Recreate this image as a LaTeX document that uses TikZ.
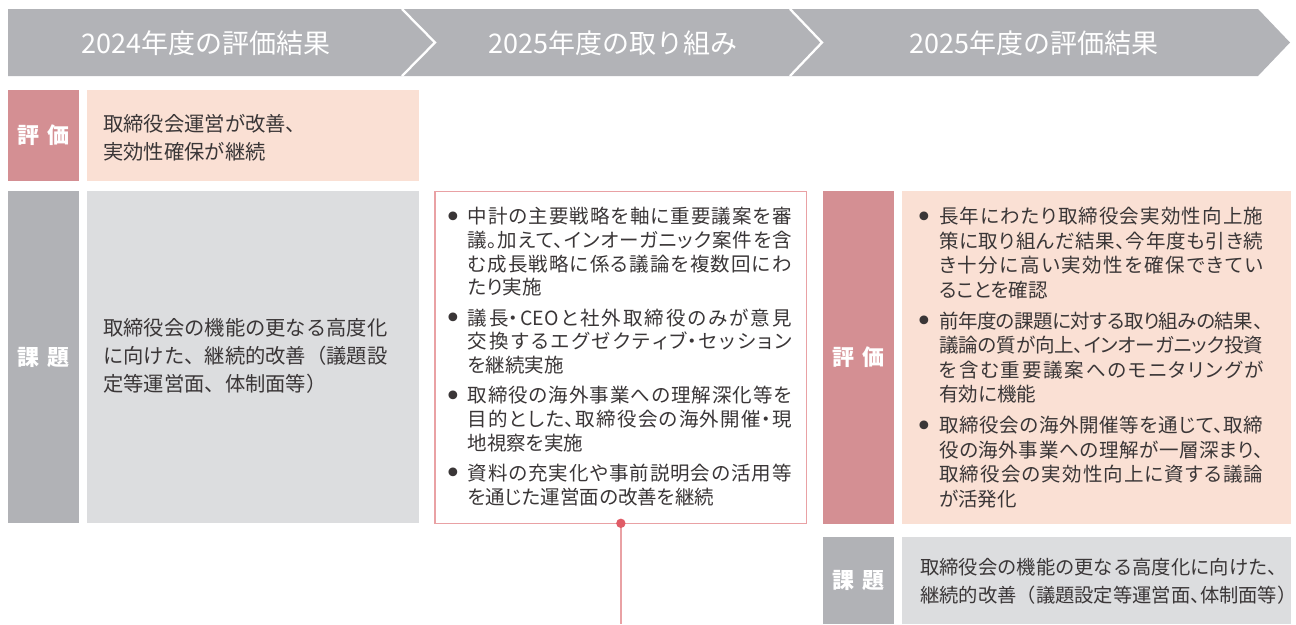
\documentclass[tikz,border=0pt]{standalone}
\usepackage{fontspec}
\setmainfont{Noto Sans CJK JP}
\newfontfamily\pfont{Noto Sans CJK JP}[RawFeature=+palt]
\newfontfamily\symfont{DejaVu Sans}
\usetikzlibrary{calc}
\XeTeXlinebreaklocale "ja"
\XeTeXlinebreakskip=0pt plus 2pt minus 1.2pt
\tolerance=10000
\hbadness=10000
\definecolor{hdgray}{HTML}{B2B3B7}
\definecolor{lblpink}{HTML}{D48F93}
\definecolor{peach}{HTML}{FAE0D4}
\definecolor{lblgray}{HTML}{B1B2B6}
\definecolor{pale}{HTML}{DCDDDF}
\definecolor{bordpink}{HTML}{E9A1A4}
\definecolor{dotred}{HTML}{E05C66}
\definecolor{ink}{HTML}{3A3637}
\newcommand{\bitem}[1]{{\hangindent=20pt\hangafter=1\noindent\makebox[20pt][l]{\makebox[10.6pt][c]{\raisebox{-3.4pt}{\symfont\fontsize{30}{30}\selectfont •}}}#1\par}}
\newcommand{\tten}{\makebox[.5em][l]{、}}
\begin{document}
\begin{tikzpicture}[x=1pt,y=-1pt,
  hd/.style={text=white, inner sep=0pt, font=\fontsize{27}{30}\selectfont},
  lab/.style={inner sep=0pt, outer sep=0pt, text=white, font=\bfseries\fontsize{22}{26}\selectfont},
  cell/.style={inner sep=0pt, outer sep=0pt},
  ptxt/.style={anchor=west, align=left, inner sep=0pt, text=ink, font=\fontsize{20.3}{28}\selectfont},
  blist/.style={anchor=west, text width=344pt, align=justify, inner sep=0pt, text=ink,
    font={\pfont\fontsize{19.5}{#1}\selectfont},
    execute at begin node={\setlength{\parskip}{6.5pt}}}]
\useasboundingbox (0,0) rectangle (1296,624);
% header band
\fill[hdgray] (8,9) -- (1258,9) -- (1290,42.5) -- (1258,76) -- (8,76) -- cycle;
\draw[white, line width=2.3pt] (402,9) -- (435,42.5) -- (402,76);
\draw[white, line width=2.3pt] (790,9) -- (822,42.5) -- (790,76);
\draw (206,43) node[hd] (hdA) {2024年度の評価結果};
\draw (613,43) node[hd] (hdB) {2025年度の取り組み};
\draw (1034,43) node[hd] (hdC) {2025年度の評価結果};
% 2024
\draw (43.5,135.5) node[lab, fill=lblpink, minimum width=71pt, minimum height=91pt] (evalA) {評\hspace{8pt}価};
\draw (252.75,135.5) node[cell, fill=peach, minimum width=331.5pt, minimum height=91pt] (evalAbox) {};
\draw (103,138) node[ptxt] (evalAtxt) {取締役会運営が改善、\\実効性確保が継続};
\draw (43.5,357.15) node[lab, fill=lblgray, minimum width=71pt, minimum height=332.3pt] (issueA) {課\hspace{8pt}題};
\draw (252.75,357.15) node[cell, fill=pale, minimum width=331.5pt, minimum height=332.3pt] (issueAbox) {};
\draw (103,356) node[ptxt] (issueAtxt) {取締役会の機能の更なる高度化\\に向けた、継続的改善（議題設\\定等運営面、体制面等）};
% 2025 actions
\draw (620.85,357.5) node[cell, draw=bordpink, line width=1.3pt, minimum width=371.7pt, minimum height=331.6pt] (act) {};
\draw (447.5,356.5) node[blist=23.7] (acttxt) {%
\bitem{中計の主要戦略を軸に重要議案を審\linebreak 議。加えて、インオーガニック案件を含\linebreak む成長戦略に係る議論を複数回にわ\linebreak たり実施}
\bitem{議長・CEOと社外取締役のみが意見\linebreak 交換するエグゼクティブ・セッション\linebreak を継続実施}
\bitem{取締役の海外事業への理解深化等を\linebreak 目的とした、取締役会の海外開催・現\linebreak 地視察を実施}
\bitem{資料の充実化や事前説明会の活用等\linebreak を通じた運営面の改善を継続}};
\coordinate (tail) at (620.85,624);
\draw[bordpink, line width=1.3pt] (act.south) -- (tail);
\fill[dotred] (act.south) circle (4.7pt);
% 2025 results
\draw (858.35,357.35) node[lab, fill=lblpink, minimum width=71.3pt, minimum height=332.7pt] (evalC) {評\hspace{8pt}価};
\draw (1096.35,357.35) node[cell, fill=peach, minimum width=388.7pt, minimum height=332.7pt] (evalCbox) {};
\draw (919,357.5) node[blist=24.5] (evalCtxt) {%
\bitem{長年にわたり取締役会実効性向上施\linebreak 策に取り組んだ結果、今年度も引き続\linebreak き十分に高い実効性を確保できてい\linebreak ることを確認}
\bitem{前年度の課題に対する取り組みの結果、\linebreak 議論の質が向上、インオーガニック投資\linebreak を含む重要議案へのモニタリングが\linebreak 有効に機能}
\bitem{取締役会の海外開催等を通じて、取締\linebreak 役の海外事業への理解が一層深まり、\linebreak 取締役会の実効性向上に資する議論\linebreak が活発化}};
\draw (858.35,580.35) node[lab, fill=lblgray, minimum width=71.3pt, minimum height=87.3pt] (issueC) {課\hspace{8pt}題};
\draw (1096.35,580.35) node[cell, fill=pale, minimum width=388.7pt, minimum height=87.3pt] (issueCbox) {};
\draw (920,581) node[ptxt, font=\fontsize{19.3}{28}\selectfont] (issueCtxt) {取締役会の機能の更なる高度化に向けた、\\継続的改善（議題設定等運営面\tten 体制面等）};
\end{tikzpicture}
\end{document}
